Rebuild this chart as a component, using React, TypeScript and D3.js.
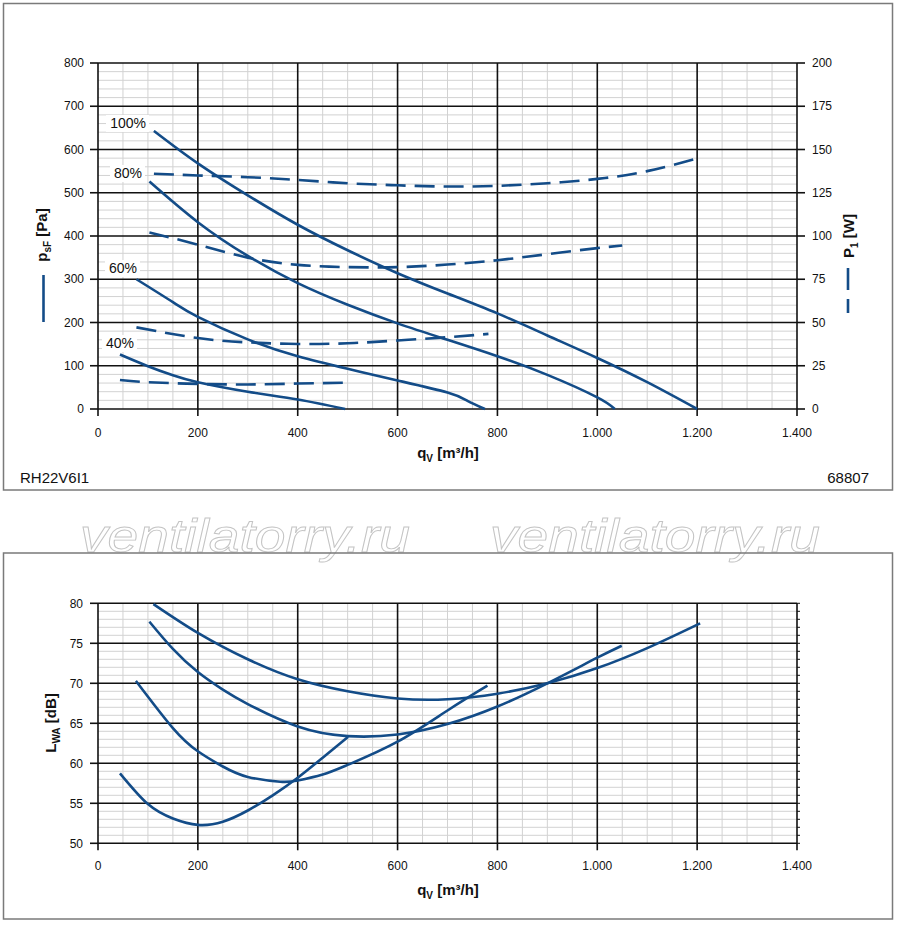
import React from "react";
import * as d3 from "d3";

// ---------- data ----------
const qTicks = [0, 200, 400, 600, 800, 1000, 1200, 1400];
const pTicks = [0, 100, 200, 300, 400, 500, 600, 700, 800];
const wTicks = [0, 25, 50, 75, 100, 125, 150, 175, 200];
const lTicks = [50, 55, 60, 65, 70, 75, 80];

// static pressure curves [q, Pa]
const p100q = [112, 200, 300, 400, 500, 600, 700, 800, 900, 1000, 1100, 1200];
const p100v = [643, 568, 494, 426, 367, 314, 267, 221, 170, 118, 62, 0];
const p80q = [103, 200, 300, 400, 500, 600, 700, 800, 900, 1000, 1035];
const p80v = [526, 432, 354, 291, 241, 198, 160, 122, 79, 27, 0];
const p60q = [77, 150, 200, 300, 400, 500, 600, 700, 740, 775];
const p60v = [300, 247, 213, 161, 122, 93, 66, 38, 19, 0];
const p40q = [44, 100, 150, 200, 300, 400, 495];
const p40v = [126, 99, 78, 62, 40, 22, 0];

// power input curves [q, W]
const w100q = [112, 200, 300, 400, 500, 600, 700, 800, 900, 1000, 1100, 1208];
const w100v = [136, 135, 134, 132.4, 130.5, 129.3, 128.6, 129, 130.5, 133, 137.5, 145.5];
const w80q = [103, 200, 300, 400, 500, 600, 700, 800, 900, 1000, 1050];
const w80v = [102, 95, 87.5, 83.3, 82, 82, 83.5, 86, 89.5, 93, 94.5];
const w60q = [77, 200, 300, 400, 500, 600, 700, 782];
const w60v = [47.2, 41, 38.5, 37.6, 38, 39.6, 41.5, 43.4];
const w40q = [44, 100, 200, 300, 400, 500];
const w40v = [16.8, 15.5, 14.5, 14.2, 14.7, 15.2];

// sound power curves [q, dB]
const l100q = [111, 200, 300, 400, 500, 600, 700, 800, 900, 1000, 1100, 1206];
const l100v = [79.9, 76.3, 73.0, 70.5, 69.0, 68.1, 68.0, 68.7, 70.0, 71.9, 74.4, 77.5];
const l80q = [103, 150, 200, 250, 300, 400, 500, 600, 700, 800, 900, 1000, 1049];
const l80v = [77.7, 74.3, 71.4, 69.2, 67.4, 64.6, 63.4, 63.6, 64.9, 67.1, 70.0, 73.2, 74.7];
const l60q = [76, 150, 200, 250, 300, 365, 400, 450, 500, 600, 700, 780];
const l60v = [70.3, 64.4, 61.5, 59.6, 58.3, 57.7, 57.85, 58.6, 59.8, 62.7, 66.6, 69.7];
const l40q = [44, 100, 150, 200, 250, 300, 350, 400, 450, 501];
const l40v = [58.75, 54.9, 53.1, 52.3, 52.7, 54.1, 56.0, 58.2, 60.7, 63.3];

const speedLabels = ["100%", "80%", "60%", "40%"];

// ---------- styles ----------
const BLUE = "#134c88";
const FONT = "'Liberation Sans', Arial, Helvetica, sans-serif";
const MINOR = "#d2d2d2";

const zip = (a: number[], b: number[]) => a.map((v, i) => [v, b[i]] as [number, number]);
const fmt = (v: number) => (v >= 1000 ? d3.format(",")(v).replace(",", ".") : String(v));

export default function App() {
  const x = d3.scaleLinear().domain([0, 1400]).range([98, 797]);
  const yP = d3.scaleLinear().domain([0, 800]).range([409, 63]);
  const yW = d3.scaleLinear().domain([0, 200]).range([409, 63]);
  const yL = d3.scaleLinear().domain([50, 80]).range([843.3, 603.3]);

  const lineP = d3.line<[number, number]>().x((d) => x(d[0])).y((d) => yP(d[1])).curve(d3.curveNatural);
  const lineW = d3.line<[number, number]>().x((d) => x(d[0])).y((d) => yW(d[1])).curve(d3.curveNatural);
  const lineL = d3.line<[number, number]>().x((d) => x(d[0])).y((d) => yL(d[1])).curve(d3.curveNatural);

  const minorQ = d3.range(50, 1400, 50).filter((v) => v % 200 !== 0);
  const minorP = d3.range(20, 800, 20).filter((v) => v % 100 !== 0);
  const minorL = d3.range(51, 80, 1).filter((v) => v % 5 !== 0);

  const pCurves = [zip(p100q, p100v), zip(p80q, p80v), zip(p60q, p60v), zip(p40q, p40v)];
  const wCurves = [zip(w100q, w100v), zip(w80q, w80v), zip(w60q, w60v), zip(w40q, w40v)];
  const lCurves = [zip(l100q, l100v), zip(l80q, l80v), zip(l60q, l60v), zip(l40q, l40v)];

  const labelPos = [
    { x: 146, y: 128 },
    { x: 142, y: 178 },
    { x: 137, y: 273 },
    { x: 134, y: 348 },
  ];

  const grid = (yScale: d3.ScaleLinear<number, number>, minorY: number[], majorY: number[], y0: number, y1: number) => (
    <g>
      {minorQ.map((v) => (
        <line key={"mq" + v} x1={x(v)} x2={x(v)} y1={y1} y2={y0} stroke={MINOR} strokeWidth={1} />
      ))}
      {minorY.map((v) => (
        <line key={"my" + v} x1={x(0)} x2={x(1400)} y1={yScale(v)} y2={yScale(v)} stroke={MINOR} strokeWidth={1} />
      ))}
      {majorY.map((v) => (
        <line key={"My" + v} x1={x(0)} x2={x(1400)} y1={yScale(v)} y2={yScale(v)} stroke="#111" strokeWidth={1.6} />
      ))}
      {qTicks.map((v) => (
        <line key={"Mq" + v} x1={x(v)} x2={x(v)} y1={y1} y2={y0 + 7} stroke="#111" strokeWidth={1.6} />
      ))}
      {majorY.map((v) => (
        <line key={"ty" + v} x1={x(0) - 8} x2={x(0)} y1={yScale(v)} y2={yScale(v)} stroke="#111" strokeWidth={1.6} />
      ))}
    </g>
  );

  return (
    <svg width={900} height={925} style={{ position: "absolute", left: 0, top: 0, background: "#fff" }} fontFamily={FONT}>
      <rect x={0} y={0} width={900} height={925} fill="#fff" />

      {/* watermark */}
      {[80, 490].map((wx) => (
        <text key={wx} x={wx} y={552} fontSize={47} fontStyle="italic" fill="#fff" stroke="#c4c4c4" strokeWidth={0.9} textLength={330} lengthAdjust="spacingAndGlyphs">
          ventilatorry.ru
        </text>
      ))}

      {/* frames */}
      <rect x={3.5} y={3.5} width={889} height={486.5} fill="none" stroke="#7a7a7a" strokeWidth={1.5} />
      <rect x={3.5} y={553} width={889} height={366} fill="none" stroke="#7a7a7a" strokeWidth={1.5} />

      {/* ---------- top chart ---------- */}
      {grid(yP, minorP, pTicks, 409, 63)}
      {wTicks.map((v) => (
        <line key={"tw" + v} x1={797} x2={805} y1={yW(v)} y2={yW(v)} stroke="#111" strokeWidth={1.6} />
      ))}
      {pTicks.map((v) => (
        <text key={"lp" + v} x={84} y={yP(v)} dy="0.35em" fontSize={12} textAnchor="end" fill="#111">
          {v}
        </text>
      ))}
      {wTicks.map((v) => (
        <text key={"lw" + v} x={812} y={yW(v)} dy="0.35em" fontSize={12} textAnchor="start" fill="#111">
          {v}
        </text>
      ))}
      {qTicks.map((v) => (
        <text key={"lq" + v} x={x(v)} y={437} fontSize={12} textAnchor="middle" fill="#111">
          {fmt(v)}
        </text>
      ))}

      {/* curves */}
      {wCurves.map((c, i) => (
        <path key={"w" + i} d={lineW(c) || ""} fill="none" stroke={BLUE} strokeWidth={2.6} strokeDasharray="20 9" />
      ))}
      {pCurves.map((c, i) => (
        <path key={"p" + i} d={lineP(c) || ""} fill="none" stroke={BLUE} strokeWidth={2.6} />
      ))}

      {/* speed labels */}
      {speedLabels.map((s, i) => {
        const w = s.length === 4 ? 37 : 29;
        return (
          <g key={s}>
            <rect x={labelPos[i].x - w - 3} y={labelPos[i].y - 13} width={w + 6} height={17} fill="#fff" />
            <text x={labelPos[i].x} y={labelPos[i].y} fontSize={14} textAnchor="end" fill="#111">
              {s}
            </text>
          </g>
        );
      })}

      {/* axis titles */}
      <text x={448} y={458} fontSize={15} fontWeight="bold" textAnchor="middle" fill="#111">
        q<tspan fontSize={10} dy={4}>V</tspan>
        <tspan dy={-4}> [m³/h]</tspan>
      </text>
      <text transform="translate(47,235) rotate(-90)" fontSize={15} fontWeight="bold" textAnchor="middle" fill="#111">
        p<tspan fontSize={10} dy={4}>sF</tspan>
        <tspan dy={-4}> [Pa]</tspan>
      </text>
      <line x1={43.5} x2={43.5} y1={275} y2={322} stroke={BLUE} strokeWidth={2.6} />
      <text transform="translate(854,236) rotate(-90)" fontSize={15} fontWeight="bold" textAnchor="middle" fill="#111">
        P<tspan fontSize={10} dy={4}>1</tspan>
        <tspan dy={-4}> [W]</tspan>
      </text>
      <line x1={848} x2={848} y1={268} y2={313} stroke={BLUE} strokeWidth={2.6} strokeDasharray="22 9" />

      <text x={20} y={483} fontSize={15} fill="#111">RH22V6I1</text>
      <text x={869} y={483} fontSize={15} textAnchor="end" fill="#111">68807</text>

      {/* ---------- bottom chart ---------- */}
      {grid(yL, minorL, lTicks, 843.3, 603.3)}
      {d3.range(50, 81, 1).map((v) => (
        <line key={"rt" + v} x1={797} x2={800} y1={yL(v)} y2={yL(v)} stroke="#111" strokeWidth={1} />
      ))}
      {lTicks.map((v) => (
        <text key={"ll" + v} x={83} y={yL(v)} dy="0.35em" fontSize={12} textAnchor="end" fill="#111">
          {v}
        </text>
      ))}
      {qTicks.map((v) => (
        <text key={"lq2" + v} x={x(v)} y={870} fontSize={12} textAnchor="middle" fill="#111">
          {fmt(v)}
        </text>
      ))}
      {lCurves.map((c, i) => (
        <path key={"l" + i} d={lineL(c) || ""} fill="none" stroke={BLUE} strokeWidth={2.6} />
      ))}
      <text x={448} y={895} fontSize={15} fontWeight="bold" textAnchor="middle" fill="#111">
        q<tspan fontSize={10} dy={4}>V</tspan>
        <tspan dy={-4}> [m³/h]</tspan>
      </text>
      <text transform="translate(56,723) rotate(-90)" fontSize={15} fontWeight="bold" textAnchor="middle" fill="#111">
        L<tspan fontSize={10} dy={4}>WA</tspan>
        <tspan dy={-4}> [dB]</tspan>
      </text>
    </svg>
  );
}
